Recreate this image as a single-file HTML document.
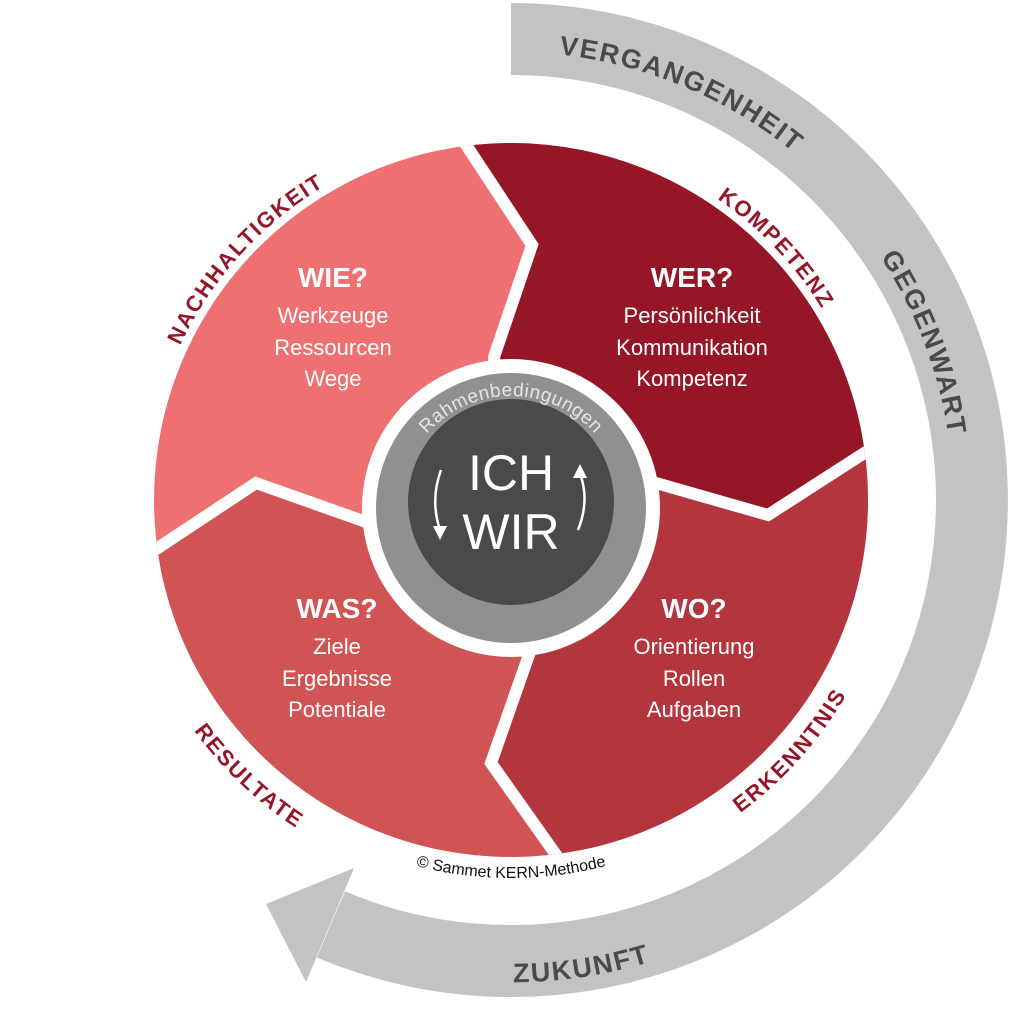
<!DOCTYPE html>
<html><head><meta charset="utf-8"><style>
html,body{margin:0;padding:0;background:#fff;}
svg{display:block;}
text{font-family:"Liberation Sans",sans-serif;}
</style></head><body>
<svg width="1024" height="1024" viewBox="0 0 1024 1024" xmlns="http://www.w3.org/2000/svg">
<defs>
<clipPath id="c"><circle cx="511" cy="500" r="357"/></clipPath>
<path id="pN" d="M146.4,517.8 A365,365 0 0 1 493.2,135.4"/>
<path id="pK" d="M520.6,135.1 A365,365 0 0 1 875.9,509.6"/>
<path id="pE" d="M532,887.4 A388,388 0 0 0 898.4,479"/>
<path id="pR" d="M119.1,510.3 A392,392 0 0 0 521.3,891.9"/>
<path id="pV" d="M341,85.5 A448,448 0 0 1 925.5,330"/>
<path id="pG" d="M692.2,96.8 A442,442 0 0 1 914.1,681.2"/>
<path id="pZ" d="M225.1,887.9 A482,482 0 0 0 899,787"/>
<path id="pC" d="M243.7,767.3 A378,378 0 0 0 778.3,767.3"/>
<path id="pRB" d="M414,452 A112,112 0 0 1 608,452"/>
</defs>

<path d="M511,39 A461,461 0 1 1 330.9,924.4" fill="none" stroke="#c2c4c4" stroke-width="72"/>
<polygon points="354,868 306,982 266,904" fill="#c2c4c4"/>

<g clip-path="url(#c)">
<rect x="0" y="0" width="1024" height="1024" fill="#ef7070"/>
<polygon points="430,0 430,90 532,245 494,357 511,505 656,483 768,515 900,430 1024,400 1024,0" fill="#951727"/>
<polygon points="511,505 656,483 768,515 900,430 1024,400 1024,1024 600,1024 580,900 559,859 491,763 531,649" fill="#b3363e"/>
<polygon points="511,505 531,649 491,763 559,859 580,900 600,1024 0,1024 0,620 120,573 256,483 369,523" fill="#d05454"/>
<g fill="none" stroke="#fff" stroke-width="12" stroke-linejoin="miter">
<polyline points="430,90 532,245 494,357 511,505"/>
<polyline points="511,505 656,483 768,515 900,430"/>
<polyline points="511,505 531,649 491,763 559,859 580,900"/>
<polyline points="511,505 369,523 256,483 120,573"/>
</g>
</g>

<circle cx="511" cy="508" r="149" fill="#fff"/>
<circle cx="511" cy="508" r="135" fill="#8f9190"/>
<circle cx="511" cy="502" r="103" fill="#4a4a49"/>
<text font-size="19" fill="#e4e4e4" letter-spacing="0.5"><textPath href="#pRB" startOffset="50%" text-anchor="middle">Rahmenbedingungen</textPath></text>
<text x="511" y="490" font-size="50" fill="#fff" text-anchor="middle">ICH</text>
<text x="511" y="549" font-size="50" fill="#fff" text-anchor="middle">WIR</text>
<path d="M441,470 Q430,500 440,530" fill="none" stroke="#fff" stroke-width="2.5"/>
<polygon points="433,526 447,526 440,540" fill="#fff"/>
<path d="M578,530 Q590,500 580,474" fill="none" stroke="#fff" stroke-width="2.5"/>
<polygon points="573,478 587,478 580,464" fill="#fff"/>

<g fill="#fff" text-anchor="middle">
<text x="333" y="287" font-size="28" font-weight="bold">WIE?</text>
<text x="333" y="323" font-size="22">Werkzeuge</text>
<text x="333" y="355" font-size="22">Ressourcen</text>
<text x="333" y="386" font-size="22">Wege</text>
<text x="692" y="287" font-size="28" font-weight="bold">WER?</text>
<text x="692" y="323" font-size="22">Persönlichkeit</text>
<text x="692" y="355" font-size="22">Kommunikation</text>
<text x="692" y="386" font-size="22">Kompetenz</text>
<text x="337" y="618" font-size="28" font-weight="bold">WAS?</text>
<text x="337" y="654" font-size="22">Ziele</text>
<text x="337" y="686" font-size="22">Ergebnisse</text>
<text x="337" y="717" font-size="22">Potentiale</text>
<text x="694" y="618" font-size="28" font-weight="bold">WO?</text>
<text x="694" y="654" font-size="22">Orientierung</text>
<text x="694" y="686" font-size="22">Rollen</text>
<text x="694" y="717" font-size="22">Aufgaben</text>
</g>

<g fill="#951727" font-weight="bold" font-size="22" letter-spacing="1.8">
<text><textPath href="#pN" startOffset="50%" text-anchor="middle">NACHHALTIGKEIT</textPath></text>
<text><textPath href="#pK" startOffset="50%" text-anchor="middle">KOMPETENZ</textPath></text>
<text><textPath href="#pE" startOffset="50%" text-anchor="middle">ERKENNTNIS</textPath></text>
<text><textPath href="#pR" startOffset="50%" text-anchor="middle">RESULTATE</textPath></text>
</g>
<g fill="#4a4a49" font-weight="bold" font-size="27" letter-spacing="1.8">
<text><textPath href="#pV" startOffset="50%" text-anchor="middle">VERGANGENHEIT</textPath></text>
<text><textPath href="#pG" startOffset="50%" text-anchor="middle">GEGENWART</textPath></text>
<text><textPath href="#pZ" startOffset="50%" text-anchor="middle">ZUKUNFT</textPath></text>
</g>
<text font-size="16" fill="#111"><textPath href="#pC" startOffset="50%" text-anchor="middle">© Sammet KERN-Methode</textPath></text>
</svg>
</body></html>
